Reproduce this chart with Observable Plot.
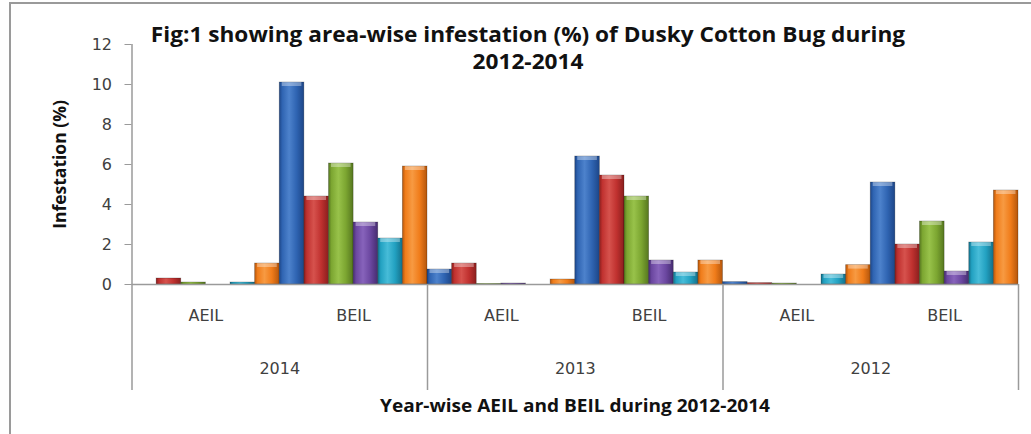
<!DOCTYPE html>
<html>
<head>
<meta charset="utf-8">
<script src="https://cdn.jsdelivr.net/npm/d3@7"></script>
<script src="https://cdn.jsdelivr.net/npm/@observablehq/plot@0.6"></script>
<style>
  html, body { margin: 0; padding: 0; background: #fff; }
  #wrap { position: relative; width: 1031px; height: 434px; overflow: hidden; font-family: "Open Sans", sans-serif; }
  #frame { position: absolute; left: 9px; top: 2px; width: 1040px; height: 440px; border-left: 2px solid #9a9a9a; border-top: 2px solid #9a9a9a; }
  #title { position: absolute; left: 128px; width: 800px; top: 21px; text-align: center; font-weight: 700; font-size: 21px; line-height: 27px; color: #111; transform: scaleX(1.078); transform-origin: 400px 0; }
  #xtitle { position: absolute; left: 325px; width: 500px; top: 394px; text-align: center; font-weight: 700; font-size: 17px; color: #111; transform: scaleX(1.12); transform-origin: 250px 0; }
  #chart { position: absolute; left: 0; top: 0; }
</style>
</head>
<body>
<div id="wrap">
  <div id="frame"></div>
  <div id="chart"></div>
  <div id="title">Fig:1 showing area-wise infestation (%) of Dusky Cotton Bug during<br>2012-2014</div>
  <div id="xtitle">Year-wise AEIL and BEIL during 2012-2014</div>
</div>
<script>
// ---- data ----
const years = ["2014", "2013", "2012"];
const levels = ["AEIL", "BEIL"];
const seriesNames = ["Series 1", "Series 2", "Series 3", "Series 4", "Series 5", "Series 6"];
const aeil2014 = [0, 0.3, 0.1, 0, 0.1, 1.05];
const beil2014 = [10.1, 4.4, 6.05, 3.1, 2.3, 5.9];
const aeil2013 = [0.75, 1.05, 0.03, 0.05, 0, 0.25];
const beil2013 = [6.4, 5.45, 4.4, 1.2, 0.6, 1.2];
const aeil2012 = [0.12, 0.07, 0.05, 0, 0.5, 0.97];
const beil2012 = [5.1, 2.0, 3.15, 0.65, 2.1, 4.7];
const yTicks = [0, 2, 4, 6, 8, 10, 12];

const valueTable = {
  "2014": {AEIL: aeil2014, BEIL: beil2014},
  "2013": {AEIL: aeil2013, BEIL: beil2013},
  "2012": {AEIL: aeil2012, BEIL: beil2012}
};

// series colours: [edge, mid, highlight]
const palette = [
  ["#1d4688", "#2f64b2", "#4d82cc"],
  ["#8a1f1e", "#c0312f", "#d6524d"],
  ["#56771f", "#7ca631", "#98c24a"],
  ["#462c70", "#6b47a0", "#8763bb"],
  ["#14708a", "#22a1c1", "#47bcd8"],
  ["#b4560c", "#f07c1a", "#f79a42"]
];

const perYear = levels.length * seriesNames.length;
const rows = [];
years.forEach((yr, yi) => levels.forEach((lv, li) => seriesNames.forEach((s, si) => {
  const start = yi * perYear + li * seriesNames.length + si;
  rows.push({year: yr, level: lv, series: s, value: valueTable[yr][lv][si], x1: start, x2: start + 1});
})));

const levelLabels = [];
years.forEach((yr, yi) => levels.forEach((lv, li) => {
  levelLabels.push({label: lv, x: yi * perYear + li * seriesNames.length + seriesNames.length / 2});
}));
const yearLabels = years.map((yr, yi) => ({label: yr, x: yi * perYear + perYear / 2}));
const separators = d3.range(0, years.length + 1).map(i => i * perYear);

const labelFont = "'DejaVu Sans', sans-serif";
const W = 1031, H = 434;
const plot = Plot.plot({
  width: W,
  height: H,
  marginLeft: 131.5,
  marginRight: 13,
  marginTop: 44,
  marginBottom: 150,
  style: {fontFamily: labelFont, fontSize: "15px", color: "#404040", background: "transparent"},
  x: {type: "linear", domain: [0, years.length * perYear], axis: null},
  y: {domain: [0, 12], axis: null},
  color: {type: "ordinal", domain: seriesNames, range: seriesNames.map((s, i) => `url(#bargrad${i})`)},
  marks: [
    // y axis ticks and labels
    Plot.axisY(yTicks, {label: null, tickSize: 7, tickPadding: 13, stroke: "#9a9a9a", fill: "#404040", fontSize: 16, fontFamily: labelFont, tickFormat: d => d}),
    // bars
    Plot.rectY(rows, {x1: "x1", x2: "x2", y: "value", fill: "series", stroke: "rgba(0,0,0,0.28)", strokeWidth: 0.8}),
    // bevel cap highlight on taller bars
    Plot.rect(rows.filter(d => d.value >= 0.4), {x1: "x1", x2: "x2", y1: "value", y2: "value", insetBottom: -4, insetLeft: 2.5, insetRight: 2.5, fill: "white", fillOpacity: 0.35}),
    // axis lines
    Plot.ruleX([0], {stroke: "#9a9a9a", strokeWidth: 1.5}),
    Plot.ruleY([0], {stroke: "#9a9a9a", strokeWidth: 1.5}),
    // year separators below the axis
    Plot.ruleX(separators, {x: d => d, y1: 0, y2: 0, insetBottom: -106, stroke: "#9a9a9a", strokeWidth: 1.5}),
    // category labels
    Plot.text(levelLabels, {x: "x", y: 0, text: "label", dy: 31, fontSize: 16, fill: "#404040"}),
    Plot.text(yearLabels, {x: "x", y: 0, text: "label", dy: 84, fontSize: 16, fill: "#404040"}),
    // y axis title
    Plot.text(["Infestation (%)"], {frameAnchor: "left", textAnchor: "middle", rotate: -90, dx: -72, fontWeight: "bold", fontSize: 17.5, fontFamily: "'Open Sans', sans-serif", fill: "#111"})
  ]
});

// gradient definitions for a bevelled bar look
const svg = d3.select(plot);
const defs = svg.insert("defs", ":first-child");
palette.forEach((c, i) => {
  const g = defs.append("linearGradient").attr("id", `bargrad${i}`).attr("x1", "0").attr("x2", "1").attr("y1", "0").attr("y2", "0");
  g.append("stop").attr("offset", "0%").attr("stop-color", c[0]);
  g.append("stop").attr("offset", "12%").attr("stop-color", c[1]);
  g.append("stop").attr("offset", "40%").attr("stop-color", c[2]);
  g.append("stop").attr("offset", "70%").attr("stop-color", c[1]);
  g.append("stop").attr("offset", "100%").attr("stop-color", c[0]);
});

document.getElementById("chart").appendChild(plot);
</script>
</body>
</html>
